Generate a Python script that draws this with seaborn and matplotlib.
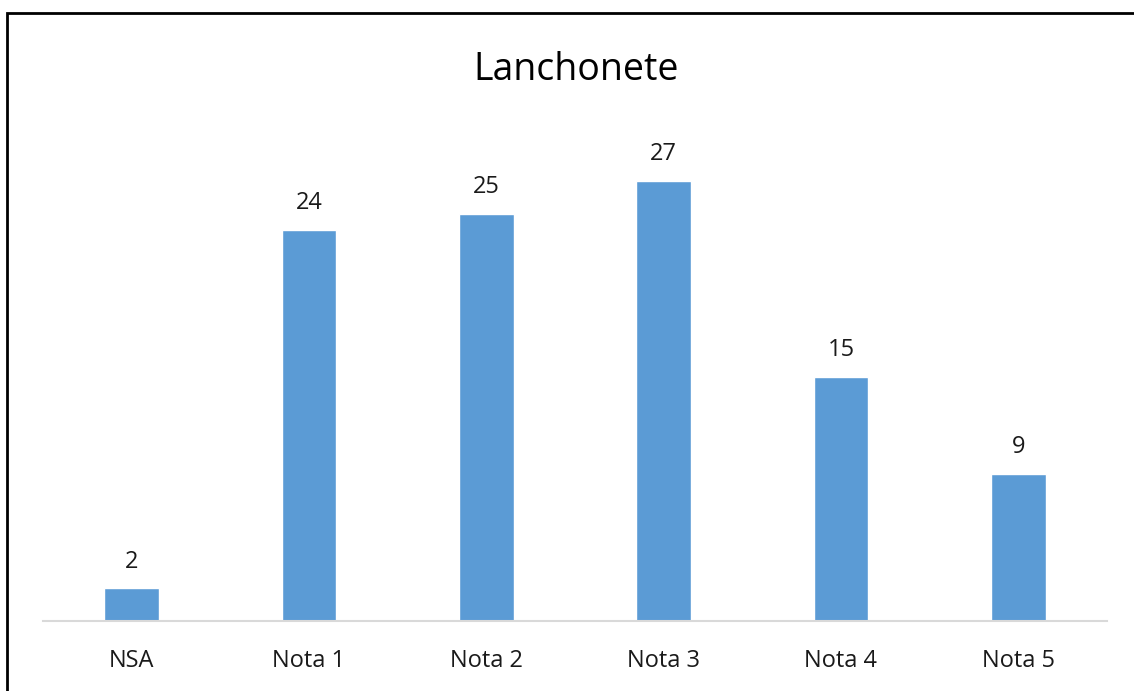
import matplotlib
matplotlib.use("Agg")
import matplotlib.pyplot as plt
import seaborn as sns
import pandas as pd
from matplotlib.patches import Rectangle

categories = ["NSA", "Nota 1", "Nota 2", "Nota 3", "Nota 4", "Nota 5"]
counts = [2, 24, 25, 27, 15, 9]
title = "Lanchonete"

BAR_COLOR = "#5B9BD5"

sns.set_theme(style="white")
plt.rcParams["font.family"] = ["Open Sans", "DejaVu Sans"]

df = pd.DataFrame({"categoria": categories, "n": counts})

fig = plt.figure(figsize=(11.34, 6.91), dpi=100)
ax = fig.add_axes([43 / 1134, 1 - 621 / 691, (1107 - 43) / 1134, (621 - 132) / 691])

sns.barplot(data=df, x="categoria", y="n", color=BAR_COLOR, width=0.31,
            saturation=1, ax=ax)

for i, v in enumerate(counts):
    ax.annotate(str(v), (i, v), xytext=(0, 15), textcoords="offset points",
                ha="center", va="baseline", fontsize=17, color="#1a1a1a")

ax.set_ylim(0, 30)
ax.set_xlim(-0.5, len(categories) - 0.5)
ax.set_yticks([])
ax.set_xlabel("")
ax.set_ylabel("")
ax.tick_params(axis="x", length=0, pad=20, labelsize=17, labelcolor="#1a1a1a")
for side in ["top", "right", "left"]:
    ax.spines[side].set_visible(False)
ax.spines["bottom"].set_color("#D9D9D9")
ax.spines["bottom"].set_linewidth(1.5)

fig.text(576 / 1134, 1 - 80 / 691, title, ha="center", va="baseline",
         fontsize=27, color="#000000")

# outer frame (only top/left visible in the crop)
fig.patches.append(Rectangle((7 / 1134, -0.05), 1.2, 1 - 13 / 691 + 0.05,
                             transform=fig.transFigure, fill=False,
                             edgecolor="black", linewidth=2))

fig.savefig("out.png", dpi=100)
